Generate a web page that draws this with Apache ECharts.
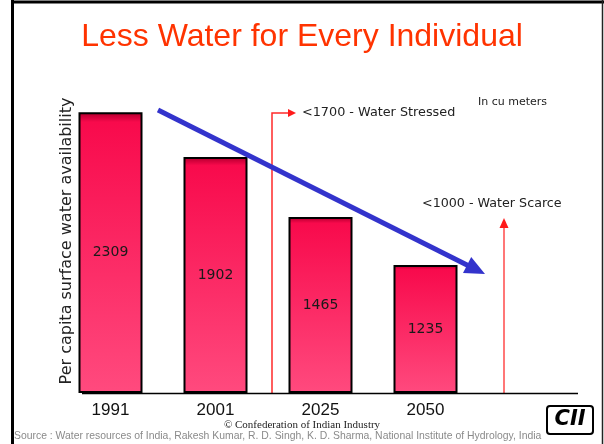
<!DOCTYPE html>
<html>
<head>
<meta charset="utf-8">
<script src="https://cdn.jsdelivr.net/npm/echarts@6/dist/echarts.min.js"></script>
<style>
	html, body { margin: 0; padding: 0; background: #fff; }
	#chart { width: 604px; height: 444px; }
</style>
</head>
<body>
<div id="chart"></div>
<script>
// categories and the printed values
var years = ['1991', '2001', '2025', '2050'];
var waterValues = [2309, 1902, 1465, 1235];
// the slide does not draw the bars to scale: heights
var barLevels = [2309, 1940, 1447, 1053];

var axisMax = 2500;

var myChart = echarts.init(document.getElementById('chart'));

var option = {
	animation: false,
	backgroundColor: '#fff',
	title: {
		text: 'Less Water for Every Individual',
		left: 'center',
		top: 16,
		textStyle: {
			color: '#ff3300',
			fontSize: 32,
			fontWeight: 'normal',
			fontFamily: 'Liberation Sans'
		}
	},
	grid: {
		left: 58,
		right: 126,
		top: 89,
		bottom: 51
	},
	xAxis: {
		type: 'category',
		data: years,
		axisLine: { show: false },
		axisTick: { show: false },
		axisLabel: {
			margin: 9,
			color: '#111',
			fontSize: 17,
			fontFamily: 'Liberation Sans'
		}
	},
	yAxis: {
		type: 'value',
		min: 0,
		max: axisMax,
		name: 'Per capita surface water availability',
		nameLocation: 'middle',
		nameRotate: 90,
		nameGap: -17,
		nameTextStyle: {
			color: '#222',
			fontSize: 16,
			fontFamily: 'DejaVu Sans'
		},
		axisLine: { show: false },
		axisTick: { show: false },
		axisLabel: { show: false },
		splitLine: { show: false }
	},
	series: [
		{
			type: 'bar',
			data: barLevels,
			barWidth: 64,
			itemStyle: {
				color: new echarts.graphic.LinearGradient(0, 0, 0, 1, [
					{ offset: 0, color: '#b0002a' },
					{ offset: 0.015, color: '#d0003a' },
					{ offset: 0.035, color: '#f80a4c' },
					{ offset: 1, color: '#ff4a7e' }
				]),
				borderColor: '#000',
				borderWidth: 2
			},
			label: {
				show: true,
				position: 'inside',
				color: '#1a1a1a',
				fontSize: 14,
				fontFamily: 'DejaVu Sans',
				formatter: function (p) {
					return waterValues[p.dataIndex];
				}
			}
		}
	],
	graphic: [
		// slide frame
		{ type: 'line', shape: { x1: 11, y1: 2, x2: 604, y2: 2 }, style: { stroke: '#000', lineWidth: 3 } },
		{ type: 'line', shape: { x1: 12.5, y1: 0, x2: 12.5, y2: 444 }, style: { stroke: '#000', lineWidth: 3 } },
		{ type: 'line', shape: { x1: 602.5, y1: 0, x2: 602.5, y2: 444 }, style: { stroke: '#222', lineWidth: 1.5 } },
		// baseline
		{ type: 'line', z: 10, shape: { x1: 82, y1: 393.5, x2: 578, y2: 393.5 }, style: { stroke: '#000', lineWidth: 1.5 } },
		// water stressed marker
		{ type: 'polyline', shape: { points: [[272, 393], [272, 113], [289, 113]] }, style: { stroke: '#ff2a2a', lineWidth: 1.5, fill: null } },
		{ type: 'polygon', shape: { points: [[288, 109], [296, 113], [288, 117]] }, style: { fill: '#ff1a1a' } },
		{ type: 'text', left: 302, top: 106, style: { text: '<1700 - Water Stressed', fill: '#222', font: '12.8px "DejaVu Sans"' } },
		// water scarce marker
		{ type: 'line', shape: { x1: 504, y1: 393, x2: 504, y2: 226 }, style: { stroke: '#ff4a4a', lineWidth: 1.5 } },
		{ type: 'polygon', shape: { points: [[499.5, 228], [504, 218], [508.5, 228]] }, style: { fill: '#ff1a1a' } },
		{ type: 'text', left: 422, top: 197, style: { text: '<1000 - Water Scarce', fill: '#222', font: '12.7px "DejaVu Sans"' } },
		{ type: 'text', left: 478, top: 97, style: { text: 'In cu meters', fill: '#222', font: '11px "DejaVu Sans"' } },
		// trend arrow
		{ type: 'line', z: 20, shape: { x1: 158, y1: 110, x2: 468, y2: 265.5 }, style: { stroke: '#3333cc', lineWidth: 5 } },
		{ type: 'polygon', z: 20, shape: { points: [[485, 274], [463, 273], [471.2, 256.9]] }, style: { fill: '#3333cc' } },
		// footer
		{ type: 'text', left: 'center', top: 420, style: { text: '\u00a9 Confederation of Indian Industry', fill: '#222', font: '11px "Liberation Serif"' } },
		{ type: 'text', left: 14, top: 431, style: { text: 'Source : Water resources of India, Rakesh Kumar, R. D. Singh, K. D. Sharma, National Institute of Hydrology, India', fill: '#8a8a8a', font: '10.4px "Liberation Sans"' } },
		{
			type: 'group', left: 546, top: 405,
			children: [
				{ type: 'rect', shape: { x: 0, y: 0, width: 46, height: 28, r: 3 }, style: { fill: '#fff', stroke: '#000', lineWidth: 2 } },
				{ type: 'text', x: 23, y: 14, style: { text: 'CII', fill: '#000', font: 'italic bold 21px "DejaVu Sans"', align: 'center', verticalAlign: 'middle' } }
			]
		}
	]
};

myChart.setOption(option);
</script>
</body>
</html>
